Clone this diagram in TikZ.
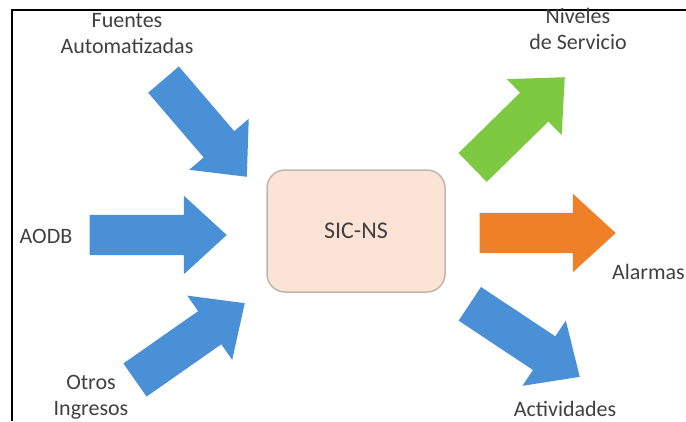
\documentclass[tikz,border=0pt]{standalone}
\usepackage{fontspec}
\setmainfont{Carlito}
\usetikzlibrary{shapes.arrows}
\definecolor{flechaazul}{RGB}{74,144,214}
\definecolor{flechaverde}{RGB}{126,201,66}
\definecolor{flechanaranja}{RGB}{240,128,40}
\definecolor{cajafondo}{RGB}{251,228,214}
\definecolor{cajaborde}{RGB}{190,182,176}
\definecolor{texto}{RGB}{64,64,64}
\begin{document}
\begin{tikzpicture}[x=1pt,y=-1pt,
	flecha/.style={single arrow,draw=none,fill=flechaazul,anchor=tip,inner xsep=0pt,inner ysep=20pt,text height=0pt,text depth=0pt,single arrow head extend=19pt,single arrow tip angle=85,single arrow head indent=0pt,minimum height=132pt},
	etiqueta/.style={text=texto,align=center,font=\fontsize{22}{26}\selectfont},
	caja/.style={rectangle,rounded corners=18pt,draw=cajaborde,line width=1.5pt,fill=cajafondo,minimum width=178pt,minimum height=122pt}]
	
	\useasboundingbox (0,0) rectangle (686,421);
	\draw[line width=2pt] (12,421) -- (12,10) -- (686,10);
	
	\node[caja,font=\fontsize{24}{28}\selectfont,text=texto] (sic) at (356,231) {SIC-NS};
	
	% entradas
	\node[flecha,rotate=-49.4,minimum height=128pt] (fuentes) at (247,177) {};
	\node[flecha,minimum height=137pt] (aodb) at (227,235) {};
	\node[flecha,rotate=35,minimum height=134pt] (otros) at (245,303) {};
	
	% salidas
	\node[flecha,fill=flechaverde,rotate=44.4,minimum height=129pt] (niveles) at (565,77) {};
	\node[flecha,fill=flechanaranja,minimum height=136pt] (alarmas) at (616,233) {};
	\node[flecha,rotate=-33.6,minimum height=132pt] (actividades) at (580,377) {};
	
	\node[etiqueta] (lfuentes) at (127,34) {Fuentes\\Automatizadas};
	\node[etiqueta] (lniveles) at (578,29) {Niveles\\de Servicio};
	\node[etiqueta] (laodb) at (46,236) {AODB};
	\node[etiqueta] (lotros) at (91,397) {Otros\\Ingresos};
	\node[etiqueta,anchor=east,inner xsep=1pt] (lalarmas) at (686,272) {Alarmas};
	\node[etiqueta] (lactividades) at (565,409) {Actividades};
	
\end{tikzpicture}
\end{document}
